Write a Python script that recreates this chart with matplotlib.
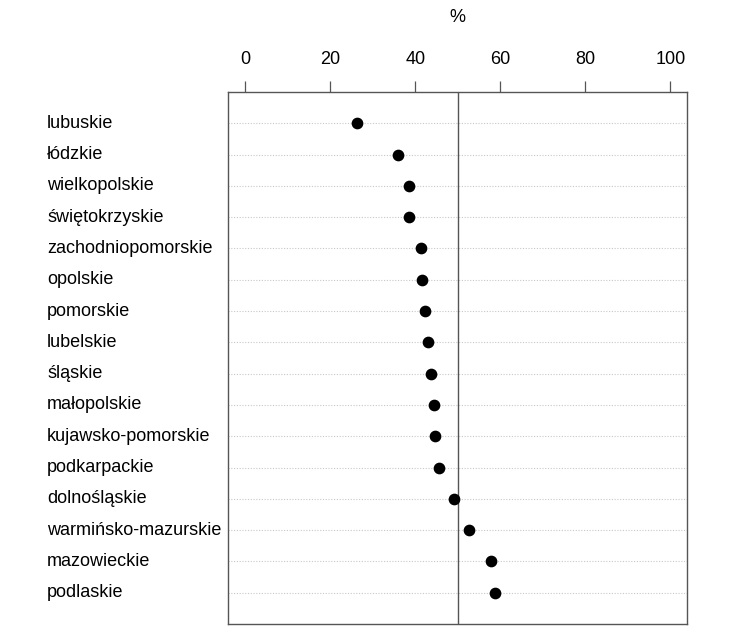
import matplotlib
matplotlib.use("Agg")
import matplotlib.pyplot as plt
import matplotlib.transforms as mtransforms

plt.rcParams['font.family'] = ['Liberation Sans', 'DejaVu Sans']

regions = ["lubuskie", "łódzkie", "wielkopolskie", "świętokrzyskie",
           "zachodniopomorskie", "opolskie", "pomorskie", "lubelskie",
           "śląskie", "małopolskie", "kujawsko-pomorskie", "podkarpackie",
           "dolnośląskie", "warmińsko-mazurskie", "mazowieckie", "podlaskie"]
values = [26.3, 35.9, 38.5, 38.5, 41.4, 41.6, 42.3, 43.0,
          43.8, 44.4, 44.7, 45.6, 49.1, 52.7, 57.9, 58.8]
ref_value = 50
xticks = [0, 20, 40, 60, 80, 100]
xlabel = "%"

fig = plt.figure(figsize=(7.35, 6.43), dpi=100)
ax = fig.add_axes([0.3106, 0.0295, 0.9351 - 0.3106, 0.8569 - 0.0295])

n = len(regions)
ypos = list(range(1, n + 1))
for y in ypos:
    ax.axhline(y, color='#c8c8c8', lw=0.8, ls=(0, (1, 1.5)), zorder=1)
ax.axvline(ref_value, color='#555555', lw=1.0, zorder=2)
ax.scatter(values, ypos, s=55, color='black', zorder=3)

ax.set_xlim(-4, 104)
ax.set_ylim(n + 1, 0)
ax.xaxis.tick_top()
ax.xaxis.set_label_position('top')
ax.set_xticks(xticks)
ax.set_xticklabels([str(t) for t in xticks], fontsize=13)
ax.tick_params(axis='x', direction='out', length=8, width=0.9, color='#555555', pad=9.5)
ax.set_yticks([])
for sp in ax.spines.values():
    sp.set_color('#555555')
    sp.set_linewidth(1.0)

ax.set_xlabel(xlabel, fontsize=13, labelpad=21)

trans = mtransforms.blended_transform_factory(fig.transFigure, ax.transData)
for y, r in zip(ypos, regions):
    ax.text(47 / 735, y, r, transform=trans, ha='left', va='center', fontsize=13)

fig.savefig("out.png", dpi=100)
